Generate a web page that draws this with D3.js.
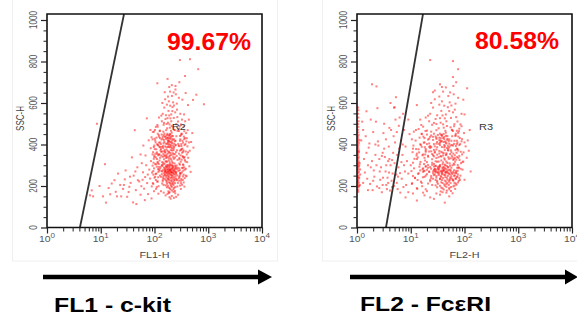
<!DOCTYPE html>
<html><head><meta charset="utf-8">
<script src="https://cdn.jsdelivr.net/npm/d3@7"></script>
<style>body{margin:0;background:#fff}svg{display:block}</style>
</head><body>
<svg id="chart" width="577" height="321"></svg>
<script>
// ---------- data ----------
const yTickValues = [0, 200, 400, 600, 800, 1000];
const xTickValues = [1, 10, 100, 1000, 10000];
const xTickExponents = ["0", "1", "2", "3", "4"];
const gatePercents = ["99.67%", "80.58%"];
const regionNames = ["R2", "R3"];
const xAxisTitles = ["FL1-H", "FL2-H"];
const markerNames = ["FL1 - c-kit", "FL2 - Fc\u03B5RI"];
const gateBottomX = [4.1, 3.46];   // gate line at SSC 0
const gateTopX = [27.1, 16.9];     // gate line at top of plot
const regionLabelPos = [[210, 470], [186, 470]];

const ckitEvents = [
[152,412],[178,388],[201,436],[133,365],[165,344],[189,402],[214,371],[141,428],[172,318],[226,352],[158,391],[195,447],[183,333],[137,301],[207,415],[168,376],[249,398],[121,352],[191,289],[156,437],[176,421],[218,311],[145,383],[199,358],[163,296],[232,425],[128,410],[186,365],[210,442],[150,329],[174,452],[241,337],[136,448],[193,314],[159,361],[221,394],[180,284],[147,405],[205,327],[169,433],[262,372],[124,389],[188,441],[213,297],[155,348],[197,386],[171,403],[236,309],[142,341],[184,419],[161,272],[227,381],[132,378],[203,264],[177,357],[153,452],[246,418],[166,317],[192,431],[139,315],[219,358],[182,397],[157,283],[208,409],[127,336],[195,276],[170,446],[238,354],[149,367],[187,342],[215,428],[162,404],[200,303],[144,392],[229,331],[175,369],[255,440],[135,424],[190,260],[211,383],[154,306],[179,414],[224,289],[168,351],[198,426],[130,293],[243,395],[160,439],[185,323],[207,349],[148,444],[173,278],[233,404],[139,366],[196,412],[164,335],[220,441],[181,301],[268,326],[126,431],[202,373],[158,256],[188,388],[235,279],[146,354],[176,433],[212,318],[167,387],[194,347],[250,363],[131,402],[183,446],[217,266],[155,374],[199,398],[171,292],[239,416],[142,437],[190,361],[161,319],[226,373],[178,408],[206,285],[150,422],[186,270],[258,345],[134,346],[195,451],[172,339],[214,405],[163,427],[242,298],[147,312],[201,392],[180,430],[223,339],[157,365],[192,305],[137,389],[209,457],[169,262],[231,387],[152,343],[185,416],[276,403],[129,371],[198,333],[175,295],[218,422],
[182,248],[215,231],[163,266],[240,214],[197,272],[145,239],[228,259],[178,201],[206,243],[255,268],[169,225],[193,189],[137,257],[221,276],[186,218],[248,237],[158,271],[211,196],[174,253],[236,227],[199,208],[142,223],[265,251],[188,264],[225,184],[166,240],[203,226],[281,273],[151,261],[218,249],[179,233],[244,195],[194,277],[133,244],[209,265],[172,211],[230,241],[184,192],[261,228],[155,252],[219,214],[197,238],[148,205],[239,269],[176,260],[213,178],[290,243],[161,229],[201,253],[226,205],[140,270],[187,229],[252,258],[170,194],[207,270],[234,232],[165,248],[195,214],[272,215],[153,235],[222,262],[181,174],[245,247],[208,221],[139,212],[190,256],[231,191],[174,268],[259,232],[162,203],[214,240],[198,183],[301,256],[147,248],[226,222],[183,243],[240,176],[168,218],[203,201],[285,237],[157,277],[236,256],[191,170],[215,209],[178,236],[251,264],[143,230],[210,253],[310,225],[266,198],
[175,162],[210,152],[148,168],[243,165],[190,146],[226,171],[161,155],[275,158],[132,175],[200,139],[253,148],[118,163],[186,167],[230,143],
[172,478],[205,512],[148,495],[233,471],[188,540],[160,523],[253,498],[126,467],[215,561],[178,505],[142,548],[196,587],[266,532],[165,469],[224,483],[152,578],[203,466],[287,476],[185,608],[137,512],[243,555],[170,592],[212,634],[115,486],[193,481],[260,597],[158,618],[228,528],[146,462],[182,562],[302,548],[209,489],[134,539],[250,642],[175,527],[222,603],[195,655],[163,541],[274,511],[121,530],[239,469],[188,677],[150,504],[216,580],[330,616],[262,568],[140,600],[205,545],[246,682],[178,631],[310,497],[227,651],[168,499],[284,625],[198,526],[355,545],[230,588],[155,652],[190,497],[268,466],
[315,402],[342,365],[298,441],[376,318],[328,287],[410,391],[290,335],[357,426],[452,370],[305,262],[388,455],[336,229],[480,412],[318,378],[365,279],[297,303],[423,336],[350,488],[310,214],[395,247],[505,455],[333,344],[372,512],[288,392],[445,295],[321,451],[360,197],[296,371],[415,469],[340,304],[530,385],[383,366],[302,425],[470,268],[348,255],[325,520],[400,430],[290,285],[435,520],[362,340],
[297,807],[457,811],[650,763],[370,730],[113,695],[210,686],[245,665],[380,648],[600,640],[830,594],[520,615],[420,590],[290,700],[175,716],
[6.3,155],[6.8,179],[7.2,150],[11,150],[12.5,120],[16,212],[14,190],[19,172],[21,260],[23,205],[26,186],[28,232],[31,148],[33,171],[36,215],[40,121],[46,113],[38,338],[43,469],[72,526],[8.5,500],[12,305],[18,228],[24,150],[29,275],[34,196],[41,250],[45,180],[48,290],[52,222],[55,158],[58,310],[61,266],[64,187],[67,243],[70,300],[73,214],[76,161],[80,279],[83,236],[86,320],[89,198],[92,352],[95,255],[98,175],[62,395],[55,352],[78,420],[85,382],[68,347],[49,228],[57,199],[103,305],[88,140],[66,132],[105,410],[93,460],[75,255],[60,230],[44,270],[35,245],[27,205],[20,150],[15,160],[9.5,200],
[112,355],[97,388],[120,445],[84,470],[108,260],[115,312],[101,428],[92,298],[118,395],[106,485],[88,435],[99,340],[114,222],[95,210],[122,280],[103,245],[110,195],[90,265],
[96,312],[104,356],[112,401],[118,268],[92,425],[100,240],[108,377],[115,452],[124,323],[98,285],[106,338],[113,221],[121,409],[94,363],[102,470],[110,293],[117,348],[126,250],[99,395],[107,186],[114,316],[122,438],[95,272],[103,419],[111,362],[119,199],[127,387],[97,331],[105,258],[113,494],[120,306],[93,214],[101,378],[109,433],[116,281],[124,352],[98,462],[106,229],[115,398],[123,274],[100,347],[108,305],[117,242],[125,465],[111,330],
[282,395],[305,348],[331,418],[295,276],[318,452],[344,301],[287,226],[312,373],[338,246],[362,397],[291,329],[326,206],[352,438],[300,262],[321,327],[347,371],[384,283],[294,488],[315,234],[340,409],[368,325],[286,356],[309,186],[334,288],[358,464],[398,352],[297,418],[323,266],[349,217],[376,402],[289,308],[313,445],[337,340],[365,238],[405,315],[292,249],[316,393],[343,274],[371,431],[420,362],[284,465],[308,317],[330,380],[356,290],[392,415],[299,202],[327,360],[353,335],[380,250],[440,410],
[128,285],[145,278],[162,291],[178,270],[195,298],[212,283],[230,274],[248,292],[265,280],[140,296],[155,268],[172,302],[189,281],[206,267],[223,295],[241,284],[258,299],[135,272],[150,288],[168,283],[185,294],[201,279],[218,288],[236,270],[253,285],[120,292],[143,304],[181,276],[213,300],[270,288]
];

const fceriEvents = [
[31,412],[24,388],[42,436],[19,365],[36,344],[27,402],[50,371],[22,428],[33,318],[46,352],[28,391],[38,447],[55,333],[21,301],[44,415],[30,376],[58,398],[17,352],[39,289],[26,437],[34,421],[48,311],[23,383],[41,358],[29,296],[52,425],[18,410],[37,365],[45,442],[25,329],[35,452],[60,337],[20,448],[40,314],[28,361],[49,394],[32,284],[22,405],[43,327],[30,433],[56,372],[16,389],[38,441],[47,297],[26,348],[42,386],[33,403],[53,309],[21,341],[36,419],[29,272],[50,381],[19,378],[44,264],[34,357],[27,452],[57,418],[31,317],[40,431],[20,315],[46,358],[35,397],[28,283],[45,409],[18,336],[41,276],[32,446],[54,354],[24,367],[37,342],[48,428],[30,404],[43,303],[23,392],[51,331],[34,369],[59,440],[21,424],[39,260],[47,383],[27,306],[36,414],[49,289],[31,351],[42,426],[19,293],[55,395],[29,439],[37,323],[45,349],[24,444],[33,278],[52,404],[22,366],[41,412],[30,335],[48,441],[35,301],[62,326],[18,431],[43,373],[28,256],[38,388],[53,279],[25,354],[34,433],[46,318],[31,387],[40,347],[57,363],[20,402],[37,446],[47,266],[27,374],[42,398],[32,292],[51,416],[23,437],[39,361],[29,319],[49,373],[35,408],[44,285],[26,422],[36,270],[58,345],[21,346],[41,451],[33,339],[46,405],[30,427],[54,298],[25,312],[43,392],[36,430],[50,339],[28,365],[39,305],[22,389],[45,457],[32,262],[52,387],[27,343],[38,416],[64,403],[19,371],[42,333],[34,295],[48,422],
[36,248],[48,231],[29,266],[55,214],[40,272],[24,239],[51,259],[35,201],[44,243],[62,268],[31,225],[39,189],[20,257],[50,276],[37,218],[57,237],[28,271],[46,196],[33,253],[53,227],[42,208],[23,223],[66,251],[38,264],[52,184],[30,240],[43,226],[70,273],[26,261],[49,249],[35,233],[56,195],[41,277],[18,244],[45,265],[32,211],[54,241],[37,192],[61,228],[27,252],[48,214],[40,238],[25,205],[55,269],[34,260],[47,178],[72,243],[29,229],[42,253],[51,205],[22,270],[38,229],[59,258],[31,194],[44,270],[53,232],[30,248],[39,214],[65,215],[26,235],[50,262],[36,174],[57,247],[45,221],[21,212],[38,256],[52,191],[33,268],[60,232],[29,203],[47,240],[41,183],[75,256],[24,248],[51,222],[37,243],[56,176],[31,218],[43,201],[68,237],[27,277],[54,256],[39,170],[46,209],[35,236],[58,264],[23,230],[44,253],[78,225],[62,198],[14,262],[12,238],[16,215],[13,190],[15,275],[11,248],[17,168],[19,184],
[13,130],[43,120],[23,145],[30,164],[11,164],[8,145],[18,155],[27,138],[35,158],[52,150],[60,165],[9,170],[20,175],[46,168],
[33,478],[46,512],[25,495],[58,471],[39,540],[29,523],[65,498],[20,467],[52,561],[36,505],[23,548],[42,587],[70,532],[30,469],[55,483],[26,578],[44,466],[80,476],[38,608],[22,512],[61,555],[34,592],[50,634],[17,486],[41,481],[68,597],[28,618],[56,528],[24,462],[37,562],[88,548],[47,489],[21,539],[63,642],[35,527],[53,603],[40,655],[31,541],[74,511],[19,530],[59,469],[38,677],[27,504],[49,580],[95,616],[66,568],[24,600],[45,545],[62,682],[34,631],[84,497],[54,651],[30,499],[76,625],[43,526],[100,545],[57,588],[26,652],[40,497],[72,466],[15,520],[13,590],[16,450],[14,475],
[23,807],[61,802],[76,763],[61,725],[112,671],[35,690],[45,675],[70,700],[28,660],
[72,402],[85,365],[68,441],[95,318],[78,287],[105,391],[66,335],[90,426],[120,370],[70,262],[98,455],[82,229],[130,270],[74,378],[92,279],[65,303],[110,336],[88,488],[100,230],[80,345],[115,420],[69,212],[86,310],[76,456],[125,470],
[1.9,690],[2.3,680],[5.3,628],[2.4,575],[7.2,548],[4.9,577],
[1.2,420],[1.5,360],[1.8,290],[2.1,245],[2.6,330],[3.0,205],[3.4,270],[3.9,390],[4.4,225],[5.0,310],[5.7,185],[6.3,262],[7.0,350],[1.3,215],[1.6,180],[2.0,460],[2.5,395],[2.9,170],[3.3,340],[3.7,240],[4.2,300],[4.8,440],[5.5,215],[6.1,380],[6.8,235],[7.5,300],[1.1,300],[1.4,265],[1.7,405],[2.2,350],[2.7,230],[3.1,455],[3.6,185],[4.0,330],[4.6,260],[5.2,520],[5.9,290],[6.6,420],[7.3,195],[1.25,510],[1.55,235],[1.9,320],[2.35,198],[2.8,290],[3.2,380],[3.8,215],[4.3,470],[4.9,200],[5.6,350],[6.4,168],[7.8,270],[1.15,255],[1.45,440],[1.75,210],[2.05,275],[2.45,415],[2.9,345],[3.5,300],[4.1,178],[4.7,360],[5.4,255],[6.0,490],[7.1,400],[1.35,330],[1.65,385],[1.95,180],[2.25,510],[2.65,270],[3.05,240],[3.45,425],[3.95,265],[4.5,325],[5.1,410],[5.8,245],[6.7,315],[1.1,200],[1.3,470],[1.6,300],[2.0,225],[2.3,300],[2.6,190],[3.0,360],[3.5,205],[4.0,480],[4.5,195],[1.5,560],[1.8,520],[2.2,400],[3.2,500],[3.8,320],[4.2,600],[5.0,580],[5.5,460],[6.2,530],[7.5,470],[8.0,390],[8.5,320],[9.0,260],[8.2,205],[9.5,450],[9.0,520],[10,300],[10.5,210],[11,380],
[1.06,172],[1.05,181],[1.07,193],[1.05,199],[1.06,208],[1.08,216],[1.05,221],[1.06,229],[1.07,238],[1.05,245],[1.06,251],[1.05,262],[1.08,268],[1.06,275],[1.05,283],[1.07,291],[1.06,296],[1.05,305],[1.06,312],[1.08,318],[1.05,327],[1.06,335],[1.07,341],[1.05,350],[1.06,358],[1.05,366],[1.07,372],[1.06,381],[1.05,390],[1.06,398],[1.08,407],[1.05,415],[1.06,426],[1.05,437],[1.07,446],[1.06,458],[1.05,471],[1.06,485],[1.05,498],[1.07,512],[1.06,530],[1.05,548],[1.06,565],[1.05,578],[1.1,240],[1.12,310],[1.09,365],[1.13,205],[1.11,420],[1.14,280],
[11,312],[13,356],[15,401],[17,268],[10.5,425],[12,240],[14,377],[16,452],[18.5,323],[11.5,285],[13.5,338],[15.5,221],[17.5,409],[10.8,363],[12.5,470],[14.5,293],[16.5,348],[19,250],[11.2,395],[13.2,186],[15.2,316],[17.2,438],[10.3,272],[12.3,419],[14.3,362],[16.3,199],[18.3,387],[11.7,331],[13.7,258],[15.7,494],[17.7,306],[10.6,214],[12.6,378],[14.6,433],[16.6,281],[18.6,352],[11.4,462],[13.4,229],[15.4,398],[17.4,274],[12.8,347],[14.8,305],[16.8,242],[18.8,465],[13,330],
[61,395],[66,348],[72,418],[64,276],[69,452],[75,301],[62,226],[68,373],[74,246],[80,397],[63,329],[71,206],[77,438],[65,262],[70,327],[76,371],[85,283],[64,488],[69,234],[74,409],[81,325],[62,356],[67,186],[73,288],[79,464],[90,352],[65,418],[70,266],[76,217],[83,402],[63,308],[68,445],[73,340],[80,238],[92,315],[64,249],[69,393],[75,274],[82,431],[96,362],[61,465],[67,317],[72,380],[78,290],[88,415],[65,202],[71,360],[77,335],[84,250],[100,410],
[17,285],[20,278],[23,291],[26,270],[29,298],[33,283],[37,274],[41,292],[46,280],[19,296],[22,268],[25,302],[28,281],[31,267],[35,295],[39,284],[44,299],[18,272],[21,288],[24,283],[27,294],[30,279],[34,288],[38,270],[42,285],[50,292],[55,276],[60,300],[48,270],[57,288]
];

const panelEvents = [ckitEvents, fceriEvents];

// ---------- drawing ----------
const svg = d3.select("#chart");
const FONT = "'Liberation Sans', Arial, Helvetica, sans-serif";

const panels = [
  {x0: 47, x1: 262, frame: [12, 0, 265, 262], pctX: 167, pctY: 50, arrow: [43, 258, 272], label: [54, 311.5, 117], yLab: 37, yTitle: 24},
  {x0: 357, x1: 572, frame: [322, 0, 260, 262], pctX: 475, pctY: 48.5, arrow: [350, 565, 578], label: [360, 310.5, 131], yLab: 347, yTitle: 335}
];

panels.forEach((p, i) => {
  const g = svg.append("g");
  const x = d3.scaleLog().domain([1, 10000]).range([p.x0, p.x1]);
  const y = d3.scaleLinear().domain([0, 1000]).range([227.5, 20]);
  const yTop = y.invert(14);

  g.append("rect").attr("x", p.frame[0] + 0.5).attr("y", p.frame[1] - 1).attr("width", p.frame[2]).attr("height", p.frame[3])
    .attr("fill", "none").attr("stroke", "#efefef").attr("stroke-width", 1);

  g.append("g").selectAll("rect").data(panelEvents[i]).join("rect")
    .attr("x", d => x(d[0]) - 1).attr("y", d => y(d[1]) - 1)
    .attr("width", 2).attr("height", 2)
    .attr("fill", "#ff1a1a").attr("fill-opacity", 0.55);

  g.append("line")
    .attr("x1", x(gateBottomX[i])).attr("y1", y(0))
    .attr("x2", x(gateTopX[i])).attr("y2", y(yTop))
    .attr("stroke", "#333").attr("stroke-width", 1.8);

  g.append("path")
    .attr("d", `M${p.x0},${y(0)}V${y(yTop)}H${p.x1}V${y(0)}Z`)
    .attr("fill", "none").attr("stroke", "#111").attr("stroke-width", 1.6);

  const minorX = x.ticks().filter(v => !xTickValues.includes(v));
  g.append("g").attr("transform", `translate(0,${y(0)})`)
    .call(d3.axisBottom(x).tickValues(minorX).tickSize(4).tickFormat(""))
    .call(s => s.select(".domain").remove())
    .call(s => s.selectAll("line").attr("stroke", "#222"));
  g.append("g").attr("transform", `translate(0,${y(0)})`)
    .call(d3.axisBottom(x).tickValues(xTickValues).tickSize(6).tickFormat(""))
    .call(s => s.select(".domain").remove())
    .call(s => s.selectAll("line").attr("stroke", "#222").attr("stroke-width", 1.2));
  xTickValues.forEach((v, k) => {
    const t = g.append("text").attr("x", x(v)).attr("y", 242)
      .attr("text-anchor", "middle").attr("font-family", FONT).attr("fill", "#555")
      .attr("font-size", 9).attr("textLength", 16).attr("lengthAdjust", "spacingAndGlyphs");
    t.append("tspan").text("10");
    t.append("tspan").attr("dy", -4).attr("font-size", 7).text(xTickExponents[k]);
  });
  g.append("text").attr("x", (p.x0 + p.x1) / 2).attr("y", 258)
    .attr("text-anchor", "middle").attr("font-family", FONT).attr("font-size", 8.5).attr("fill", "#444")
    .attr("textLength", 30).attr("lengthAdjust", "spacingAndGlyphs")
    .text(xAxisTitles[i]);

  const minorY = y.ticks(20).filter(v => !yTickValues.includes(v));
  g.append("g").attr("transform", `translate(${p.x0},0)`)
    .call(d3.axisLeft(y).tickValues(minorY).tickSize(3.5).tickFormat(""))
    .call(s => s.select(".domain").remove())
    .call(s => s.selectAll("line").attr("stroke", "#222"));
  g.append("g").attr("transform", `translate(${p.x0},0)`)
    .call(d3.axisLeft(y).tickValues(yTickValues).tickSize(6).tickFormat(""))
    .call(s => s.select(".domain").remove())
    .call(s => s.selectAll("line").attr("stroke", "#222").attr("stroke-width", 1.2));
  yTickValues.forEach(v => {
    g.append("text")
      .attr("transform", `translate(${p.yLab},${y(v)}) rotate(-90) scale(1,1.25)`)
      .attr("text-anchor", "middle").attr("font-family", FONT).attr("font-size", 8)
      .attr("fill", "#555").text(v);
  });
  g.append("text")
    .attr("transform", `translate(${p.yTitle},118.5) rotate(-90) scale(1,1.25)`)
    .attr("text-anchor", "middle").attr("font-family", FONT).attr("font-size", 8)
    .attr("fill", "#444").text("SSC-H");

  g.append("text").attr("x", x(regionLabelPos[i][0])).attr("y", y(regionLabelPos[i][1]))
    .attr("font-family", FONT).attr("font-size", 9.5).attr("fill", "#333")
    .attr("textLength", 14).attr("lengthAdjust", "spacingAndGlyphs")
    .text(regionNames[i]);

  g.append("text").attr("x", p.pctX).attr("y", p.pctY)
    .attr("font-family", FONT).attr("font-weight", "bold").attr("font-size", 24.5)
    .attr("fill", "#ff0000").attr("textLength", 84).attr("lengthAdjust", "spacingAndGlyphs")
    .text(gatePercents[i]);

  g.append("line").attr("x1", p.arrow[0]).attr("x2", p.arrow[1] + 1).attr("y1", 277).attr("y2", 277)
    .attr("stroke", "#000").attr("stroke-width", 4.5);
  g.append("path").attr("d", `M${p.arrow[1]},269.5L${p.arrow[2]},277L${p.arrow[1]},284.5Z`).attr("fill", "#000");

  g.append("text").attr("x", p.label[0]).attr("y", p.label[1])
    .attr("font-family", FONT).attr("font-weight", "bold").attr("font-size", 21)
    .attr("fill", "#000").attr("textLength", p.label[2]).attr("lengthAdjust", "spacingAndGlyphs")
    .text(markerNames[i]);
});
</script>
</body></html>
